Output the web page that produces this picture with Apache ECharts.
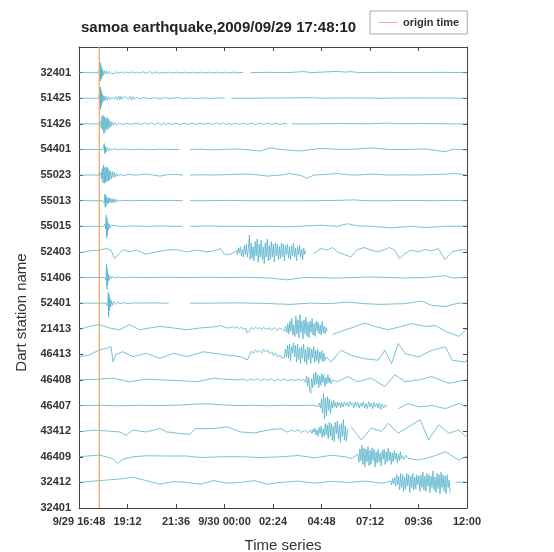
<!DOCTYPE html>
<html>
<head>
<meta charset="utf-8">
<script src="https://cdn.jsdelivr.net/npm/echarts@6/dist/echarts.min.js"></script>
<style>
  html, body { margin: 0; padding: 0; background: #fff; }
  #chart { width: 554px; height: 552px; }
</style>
</head>
<body>
<div id="chart"></div>
<script>
// minutes after 9/29 16:48, tick every 2h24m
var xTickLabels = ['9/29 16:48', '19:12', '21:36', '9/30 00:00', '02:24', '04:48', '07:12', '09:36', '12:00']
var stationLabels = ['32401', '32412', '46409', '43412', '46407', '46408', '46413', '21413', '52401',
  '51406', '52403', '55015', '55013', '55023', '54401', '51426', '51425', '32401']
var originTime = 60.17 // 17:48:10

// each trace: [minutes, amplitude] ; null = no record
var w32401 = [[0,0],[40,0],[58,0],[61,0.15],[62,-0.12],[63,0.39],[64,-0.33],[65,0.3],[66,-0.25],[67,0.2],[68,-0.18],[70,0.12],[72,-0.1],[75,0.08],[78,-0.06],[82,0.06],[86,-0.05],[90,0.04],[95,-0.04],[100,0.03],[106,-0.03],[112,0.03],[118,-0.02],[125,0.02],[132,-0.03],[140,0.03],[148,-0.02],[156,0.03],[164,-0.02],[172,0.02],[180,-0.02],[190,0.03],[200,-0.03],[210,0.04],[218,-0.03],[226,0.03],[236,-0.02],[246,0.02],[256,-0.02],[266,0.02],[278,-0.02],[290,0.02],[302,-0.02],[314,0.02],[326,-0.02],[338,0.02],[350,-0.02],[362,0.02],[374,-0.02],[386,0.02],[398,-0.02],[410,0.02],[422,-0.02],[434,0.02],[446,-0.02],[458,0.02],[470,-0.01],[488,0.01],[489,null],[510,0],[560,0.01],[620,0],[667,0.04],[690,0],[767,0.05],[790,0.02],[807,0.04],[830,0],[900,0.01],[1000,0],[1080,0.01],[1152,0]]
var w51425 = [[0,0],[40,0],[59,0],[61,0.2],[62,-0.15],[63,0.43],[64,-0.42],[65,0.35],[66,-0.3],[67,0.25],[68,-0.22],[70,0.15],[72,-0.12],[74,0.1],[77,-0.1],[80,0.08],[84,-0.08],[88,0.06],[92,-0.05],[98,0.05],[104,-0.04],[110,0.06],[114,-0.05],[118,0.08],[121,-0.06],[124,0.07],[127,-0.05],[130,0.04],[135,-0.03],[140,0.05],[146,-0.04],[152,0.07],[156,-0.06],[160,0.06],[164,-0.05],[170,0.03],[180,-0.02],[195,0.02],[210,-0.02],[225,0.02],[240,-0.02],[255,0.02],[270,-0.01],[290,0.02],[310,-0.01],[330,0.01],[350,-0.01],[370,0.01],[390,-0.01],[410,0.01],[432,0],[433,null],[452,0],[520,0],[600,0.01],[697,0.02],[720,0],[800,0.01],[900,0],[1000,0.01],[1152,0]]
var w51426 = [[0,0],[40,0],[60,0],[64,0.1],[66,-0.15],[68,0.3],[70,-0.25],[72,0.33],[74,-0.39],[76,0.28],[78,-0.3],[80,0.22],[82,-0.2],[84,0.25],[86,-0.22],[88,0.18],[90,-0.15],[92,0.12],[95,-0.1],[98,0.08],[102,-0.06],[106,0.05],[112,-0.04],[120,0.03],[130,-0.03],[140,0.02],[155,-0.02],[170,0.03],[185,-0.03],[195,0.04],[205,-0.02],[215,0.03],[225,-0.03],[235,0.04],[245,-0.05],[252,0.05],[258,-0.04],[266,0.03],[276,-0.03],[288,0.03],[300,-0.03],[312,0.03],[324,-0.03],[336,0.03],[348,-0.03],[360,0.03],[372,-0.02],[384,0.03],[396,-0.03],[408,0.03],[420,-0.02],[430,0.04],[436,-0.04],[442,0.03],[452,-0.03],[464,0.03],[476,-0.03],[488,0.03],[500,-0.03],[512,0.03],[524,-0.03],[536,0.03],[548,-0.03],[560,0.03],[572,-0.03],[584,0.03],[596,-0.03],[608,0.02],[618,0],[620,null],[632,0],[700,0],[780,0.01],[860,0],[917,0.03],[940,0],[1020,0.01],[1100,0],[1152,0]]
var w54401 = [[0,0],[50,0],[70,0],[73,0.05],[75,0.23],[76,-0.16],[77,0.15],[78,-0.12],[79,0.1],[81,-0.08],[84,0.06],[88,-0.05],[92,0.04],[98,-0.03],[105,0.03],[115,-0.02],[130,0.02],[150,-0.01],[180,0.01],[210,-0.01],[240,0.01],[270,0],[298,0],[299,null],[330,0],[360,0.01],[400,-0.02],[440,0.01],[480,0.01],[540,-0.06],[567,0.06],[597,0],[657,-0.06],[717,0.04],[780,0],[817,0.01],[867,0.06],[920,0],[967,0],[1030,0.02],[1087,-0.09],[1110,0.01],[1152,-0.02]]
var w55023 = [[0,0],[50,0],[62,0],[65,0.1],[67,-0.15],[69,0.25],[71,-0.3],[73,0.39],[75,-0.33],[77,0.3],[79,-0.28],[81,0.32],[83,-0.25],[85,0.28],[87,-0.22],[89,0.2],[91,-0.2],[93,0.15],[96,-0.15],[99,0.14],[102,-0.1],[105,0.1],[108,-0.08],[112,0.06],[116,-0.04],[122,0.03],[130,-0.02],[145,0.02],[170,0],[200,0.04],[220,0],[240,-0.04],[260,0.01],[280,0.03],[308,0],[309,null],[330,0],[360,0.01],[400,0],[450,0.02],[500,0.04],[530,0.01],[560,-0.04],[600,0],[627,0.06],[660,-0.02],[677,-0.13],[697,0],[740,0.03],[767,0.06],[800,0.01],[827,0],[867,0.04],[920,0],[967,0.01],[1000,0],[1047,0.02],[1080,0.03],[1117,0.06],[1152,0]]
var w55013 = [[0,0],[50,0],[70,0],[73,0.05],[75,-0.1],[77,0.26],[78,-0.26],[79,0.2],[80,-0.22],[82,0.15],[84,-0.12],[86,0.12],[88,-0.1],[90,0.1],[92,-0.08],[95,0.09],[98,-0.08],[101,0.08],[104,-0.07],[107,0.06],[110,-0.05],[114,0.03],[120,-0.02],[130,0.01],[160,0],[200,0.01],[240,0],[280,0.01],[308,0],[309,null],[330,0],[380,0],[440,0.01],[500,0],[560,0],[620,-0.01],[700,0],[760,0.01],[817,0.03],[850,0],[920,0],[980,0.01],[1050,0],[1100,0.01],[1152,0]]
var w55015 = [[0,0],[50,0],[74,0],[77,0.08],[79,-0.1],[81,0.43],[82,-0.47],[83,0.3],[84,-0.35],[86,0.15],[88,-0.15],[90,0.08],[93,-0.06],[97,0.04],[102,-0.03],[110,0.02],[125,-0.01],[150,0.01],[200,0],[250,0.01],[290,0],[308,0],[309,null],[330,0],[380,0.01],[430,0],[480,0],[530,-0.01],[567,0],[617,-0.02],[667,0.01],[717,0.04],[767,0],[797,0.1],[827,0.01],[867,0],[927,-0.06],[987,0],[1027,-0.05],[1087,0],[1152,0.01]]
var w52403 = [[0,-0.04],[30,0.04],[60,0.07],[80,0.13],[95,0.07],[105,-0.26],[115,-0.13],[130,0.09],[150,0],[170,0.07],[200,-0.09],[230,0],[260,0.07],[290,0.09],[320,0],[350,0.07],[380,0],[400,0.04],[420,0.13],[430,-0.07],[435,-0.13],[440,-0.12],[445,-0.1],[450,-0.08],[455,-0.05],[460,-0.03],[465,0],[468,0.05],[470,-0.1],[473,0.15],[476,-0.05],[479,0.2],[482,-0.15],[485,0.1],[488,-0.2],[491,0.25],[494,-0.1],[497,0.3],[500,-0.2],[503,0.15],[506,0.66],[508,-0.3],[511,0.35],[514,-0.25],[517,0.2],[520,-0.35],[523,0.4],[526,-0.15],[529,0.5],[532,-0.4],[535,0.3],[538,-0.2],[541,0.45],[544,-0.3],[547,0.2],[550,-0.45],[553,0.35],[556,-0.2],[559,0.5],[562,-0.35],[565,0.25],[568,-0.3],[571,0.4],[574,-0.2],[577,0.3],[580,-0.4],[583,0.35],[586,-0.15],[589,0.3],[592,-0.3],[595,0.2],[598,-0.25],[601,0.35],[604,-0.2],[607,0.3],[610,-0.35],[613,0.25],[616,-0.1],[619,0.3],[622,-0.25],[625,0.2],[628,-0.3],[631,0.25],[634,-0.15],[637,0.35],[640,-0.2],[643,0.15],[646,-0.35],[649,0.2],[652,-0.1],[655,0.25],[658,-0.2],[661,0.1],[664,-0.3],[667,0.15],[670,-0.1],[673,0.05],[674,null],[697,-0.07],[717,0.13],[737,0.07],[752,0.17],[767,0],[787,-0.1],[807,-0.2],[827,0.09],[847,0.17],[867,0.07],[887,0],[907,0.09],[922,0.17],[937,0.07],[952,-0.26],[967,-0.07],[987,0.07],[1007,0],[1027,0.09],[1047,0.04],[1067,0.13],[1087,-0.3],[1107,0],[1127,0.07],[1147,0.09],[1152,0.04]]
var w51406 = [[0,0],[50,0],[75,0],[78,0.05],[80,-0.1],[82,0.52],[83,-0.46],[84,0.35],[85,-0.3],[87,0.15],[89,-0.12],[92,0.06],[96,-0.05],[100,0.04],[106,-0.03],[115,0.02],[130,-0.01],[160,0.01],[200,0],[260,0.01],[320,0],[380,0.01],[440,0],[500,0.01],[567,-0.02],[617,-0.09],[667,0],[767,-0.02],[867,0.02],[967,-0.02],[1027,0],[1087,0.07],[1107,-0.02],[1152,0]]
var w52401 = [[0,0],[50,0],[80,0],[83,0.05],[85,-0.1],[87,0.43],[88,-0.55],[89,0.35],[90,-0.3],[92,0.2],[94,-0.15],[96,0.1],[99,-0.08],[103,0.06],[108,-0.05],[115,0.04],[122,-0.03],[130,0.02],[145,-0.02],[160,0.01],[190,0],[220,0.01],[250,0],[266,0],[267,null],[330,0],[400,0],[480,0.01],[567,-0.02],[627,-0.05],[687,0],[747,-0.02],[797,0.04],[847,-0.02],[897,-0.05],[967,-0.02],[1017,0.08],[1047,-0.09],[1087,-0.13],[1127,0],[1152,0]]
var w21413 = [[0,-0.04],[30,0.09],[60,0.16],[90,0.03],[120,-0.04],[150,0.16],[180,-0.04],[210,0.03],[240,0.09],[280,0.03],[320,-0.04],[360,0.03],[400,0.07],[420,0.12],[440,0.03],[450,0.04],[458,0.08],[464,0.02],[470,0.07],[476,0],[482,0.06],[488,-0.03],[494,0.03],[500,-0.17],[506,-0.08],[512,0.05],[518,-0.02],[524,0.06],[530,0],[536,0.04],[542,-0.03],[548,0.05],[556,-0.02],[564,0.03],[572,-0.04],[580,0.04],[588,-0.06],[596,0.03],[604,-0.02],[610,-0.1],[614,0.1],[617,-0.15],[620,0.2],[623,-0.2],[626,0.3],[629,-0.1],[632,0.4],[635,-0.25],[638,0.15],[641,-0.3],[644,0.5],[647,-0.2],[650,0.35],[653,-0.35],[656,0.55],[659,-0.15],[662,0.3],[665,-0.4],[668,0.35],[671,-0.2],[674,0.45],[677,-0.3],[680,0.25],[683,-0.35],[686,0.3],[689,-0.15],[692,0.4],[695,-0.25],[698,0.2],[701,-0.3],[704,0.3],[707,-0.1],[710,0.25],[713,-0.2],[716,0.15],[719,-0.25],[722,0.3],[725,-0.15],[728,0.1],[731,-0.2],[734,0.05],[737,-0.1],[740,null],[753,-0.23],[778,-0.1],[808,0.03],[848,0.22],[878,0.09],[918,-0.04],[958,0.09],[988,0.2],[1028,0.09],[1058,0.12],[1088,-0.1],[1128,-0.3],[1148,-0.04],[1152,-0.02]]
var w46413 = [[0,-0.09],[30,-0.03],[60,0.17],[80,0.23],[95,0.3],[101,-0.29],[110,0],[130,0.1],[160,-0.09],[200,0.04],[240,-0.16],[280,0.04],[320,-0.09],[370,0.1],[400,0.04],[440,-0.03],[480,-0.09],[500,-0.22],[506,-0.05],[512,0.12],[518,0.05],[524,0.18],[530,0.08],[536,0.15],[542,0.05],[548,0.2],[554,0.1],[560,0.16],[566,0.02],[572,0.1],[578,-0.05],[584,0.05],[590,-0.1],[596,-0.02],[602,-0.15],[610,-0.12],[613,0.2],[616,-0.1],[619,0.35],[622,-0.15],[625,0.4],[628,-0.25],[631,0.3],[634,0.05],[637,0.45],[640,-0.1],[643,0.35],[646,-0.3],[649,0.4],[652,-0.2],[655,0.25],[658,-0.35],[661,0.3],[664,-0.15],[667,0.4],[670,-0.3],[673,0.2],[676,-0.4],[679,0.3],[682,-0.2],[685,0.25],[688,-0.35],[691,0.2],[694,-0.15],[697,0.3],[700,-0.3],[703,0.15],[706,-0.25],[709,0.2],[712,-0.35],[715,0.1],[718,-0.2],[721,0.15],[724,-0.3],[727,0.05],[730,-0.25],[734,-0.1],[748,-0.3],[778,0.16],[808,-0.04],[848,-0.17],[888,-0.23],[908,0.16],[928,-0.36],[948,0.42],[968,0.03],[1008,-0.1],[1048,0.16],[1088,0.29],[1108,-0.23],[1148,-0.3],[1152,-0.2]]
var w46408 = [[0,0],[60,0.03],[100,0.07],[150,-0.07],[200,0.03],[250,0],[300,-0.03],[350,-0.07],[400,0.07],[430,0.03],[470,0],[490,0.03],[500,-0.03],[510,0.04],[520,-0.02],[530,0.05],[540,-0.03],[550,0.04],[560,-0.02],[570,0.05],[580,-0.04],[590,0.03],[600,-0.02],[610,0.04],[620,-0.03],[630,0.02],[640,-0.03],[650,0.03],[660,-0.02],[668,0.02],[673,-0.1],[676,0.15],[679,-0.25],[682,0.1],[685,-0.4],[688,-0.52],[691,0.05],[694,-0.3],[697,0.25],[700,-0.2],[703,0.3],[706,-0.15],[709,0.2],[712,-0.3],[715,0.15],[718,-0.2],[721,0.25],[724,-0.1],[727,0.2],[730,-0.25],[733,0.1],[736,-0.15],[739,0.2],[742,-0.1],[745,0.1],[748,-0.15],[752,0],[768,-0.07],[798,0.13],[828,-0.07],[868,0.07],[908,-0.26],[938,0.2],[968,-0.07],[1008,0],[1048,0.13],[1098,-0.13],[1148,0],[1152,0]]
var w46407 = [[0,0],[60,0.01],[120,-0.01],[180,0.01],[240,0],[300,0.02],[350,0.06],[380,0.07],[420,0.03],[470,0],[520,0.01],[560,-0.01],[600,0.01],[640,0],[680,0.01],[700,0],[705,0.03],[710,-0.04],[714,0.1],[717,-0.1],[720,0.25],[723,-0.3],[726,0.47],[729,-0.51],[732,0.3],[735,-0.4],[738,0.35],[741,-0.2],[744,0.25],[747,-0.3],[750,0.15],[753,-0.1],[756,0.2],[759,-0.05],[762,0.12],[765,-0.1],[768,0.15],[771,0],[774,0.1],[777,-0.08],[780,0.12],[784,-0.05],[788,0.14],[792,0],[796,0.12],[800,-0.06],[804,0.15],[808,0.02],[812,0.1],[816,-0.08],[820,0.14],[824,-0.04],[828,0.12],[832,-0.1],[836,0.1],[840,-0.05],[844,0.15],[848,-0.1],[852,0.08],[856,-0.12],[860,0.15],[864,-0.05],[868,0.1],[872,-0.12],[876,0.12],[880,-0.05],[884,0.08],[888,-0.1],[892,0.1],[896,-0.15],[900,0.05],[905,-0.1],[910,0.03],[915,-0.05],[920,null],[948,-0.12],[978,0.08],[1008,-0.05],[1048,0],[1088,-0.12],[1128,0.08],[1148,-0.03],[1152,0]]
var w43412 = [[0,-0.03],[40,0.04],[80,0.01],[120,-0.03],[140,-0.16],[160,0.04],[200,-0.03],[240,0.1],[260,-0.03],[300,-0.09],[330,-0.12],[345,0.1],[400,0.1],[440,0.17],[480,-0.03],[520,-0.07],[560,0.04],[600,0.1],[610,0.02],[620,-0.04],[630,0.05],[640,-0.02],[650,0.06],[660,-0.05],[670,0.03],[680,-0.06],[688,0.04],[692,-0.1],[695,0.08],[698,-0.05],[701,0.12],[704,-0.15],[707,0.05],[710,-0.2],[713,0.15],[716,-0.1],[719,0.2],[722,-0.25],[725,0.1],[728,-0.2],[731,0.3],[734,-0.15],[737,0.25],[740,-0.3],[743,0.35],[746,-0.2],[749,0.3],[752,-0.35],[755,0.2],[758,-0.4],[761,0.35],[764,-0.1],[767,0.4],[770,-0.3],[773,0.25],[776,-0.45],[779,0.3],[782,-0.2],[785,0.45],[788,-0.35],[791,0.2],[794,-0.4],[797,0.1],[800,null],[808,0.18],[838,-0.34],[868,0.12],[898,-0.01],[918,0.31],[948,-0.08],[988,0.25],[1013,0.44],[1038,-0.34],[1068,0.25],[1098,-0.08],[1128,0.05],[1148,-0.21],[1152,-0.15]]
var w46409 = [[0,0],[60,0.07],[100,-0.07],[115,-0.26],[130,-0.1],[160,0],[200,0.04],[260,0.03],[320,0.03],[360,-0.03],[420,0],[480,0],[540,-0.03],[600,0],[650,0.05],[700,-0.04],[750,0.06],[790,0],[810,-0.06],[828,0.1],[831,-0.2],[834,0.3],[837,-0.15],[840,0.45],[843,-0.3],[846,0.35],[849,-0.4],[852,0.3],[855,-0.2],[858,0.4],[861,-0.35],[864,0.25],[867,-0.3],[870,0.35],[873,-0.15],[876,0.3],[879,-0.4],[882,0.2],[885,-0.25],[888,0.3],[891,-0.2],[894,0.15],[897,-0.35],[900,0.25],[903,-0.1],[906,0.3],[909,-0.3],[912,0.2],[915,-0.2],[918,0.35],[921,-0.15],[924,0.2],[927,-0.3],[930,0.15],[933,-0.2],[936,0.25],[939,-0.1],[942,0.15],[945,-0.25],[948,0.1],[951,-0.15],[954,0.2],[957,-0.1],[960,0.05],[965,-0.1],[970,0.05],[975,-0.05],[1008,-0.13],[1048,0],[1088,0.2],[1128,-0.13],[1148,0],[1152,0]]
var w32412 = [[0,0],[60,0.07],[120,0.13],[160,0.2],[200,0.07],[240,-0.07],[280,0.03],[320,0],[360,-0.07],[400,0.07],[440,-0.03],[480,0],[520,0.07],[560,-0.07],[600,0],[650,0.05],[700,-0.03],[750,0.04],[800,0],[850,0.05],[900,-0.03],[925,0.05],[928,-0.1],[931,0.15],[934,-0.05],[937,0.2],[940,-0.15],[943,0.3],[946,-0.1],[949,0.25],[952,-0.3],[955,0.35],[958,-0.2],[961,0.3],[964,-0.35],[967,0.2],[970,-0.25],[973,0.35],[976,-0.15],[979,0.3],[982,-0.4],[985,0.25],[988,-0.2],[991,0.35],[994,-0.3],[997,0.2],[1000,-0.25],[1003,0.3],[1006,-0.1],[1009,0.25],[1012,-0.35],[1015,0.3],[1018,-0.2],[1021,0.4],[1024,-0.3],[1027,0.25],[1030,-0.35],[1033,0.35],[1036,-0.15],[1039,0.3],[1042,-0.4],[1045,0.25],[1048,-0.2],[1051,0.45],[1054,-0.3],[1057,0.2],[1060,-0.4],[1063,0.35],[1066,-0.25],[1069,0.3],[1072,-0.45],[1075,0.4],[1078,-0.2],[1081,0.3],[1084,-0.35],[1087,0.25],[1090,-0.45],[1093,0.3],[1096,-0.2],[1099,0.1],[1102,-0.4],[1105,null],[1118,0],[1140,0.02],[1152,0]]

// trace list, bottom row first (row 0 is the empty bottom label)
var traces = [w32412, w46409, w43412, w46407, w46408, w46413, w21413, w52401, w51406,
  w52403, w55015, w55013, w55023, w54401, w51426, w51425, w32401]

var waveColor = '#56b3ca'
var axisColor = '#444'

function buildSeries() {
  var serie = []
  for (var i = 0; i < traces.length; i++) {
    var row = i + 1
    serie.push({
      type: 'line',
      name: stationLabels[row],
      symbol: 'none',
      silent: true,
      connectNulls: false,
      lineStyle: { color: waveColor, width: 0.8 },
      data: traces[i].map(function (p) {
        return [p[0], p[1] === null ? '-' : row + p[1]]
      })
    })
  }
  // origin time marker
  serie.push({
    type: 'line',
    name: 'origin time',
    symbol: 'none',
    silent: true,
    lineStyle: { color: '#eea25c', width: 1.2 },
    itemStyle: { color: '#f2b2a2' },
    data: [[originTime, 0], [originTime, 18]]
  })
  return serie
}

// x/y axis pair drawn as a closed box with inside ticks
function boxAxis(extra) {
  var base = {
    type: 'value',
    axisLine: { show: true, onZero: false, lineStyle: { color: axisColor } },
    axisTick: { show: true, inside: true, length: 4, lineStyle: { color: axisColor } },
    splitLine: { show: false }
  }
  for (var k in extra) base[k] = extra[k]
  return base
}

var chart = echarts.init(document.getElementById('chart'), null, { renderer: 'canvas' })
chart.setOption({
  animation: false,
  backgroundColor: '#fff',
  title: {
    text: 'samoa earthquake,2009/09/29 17:48:10',
    left: 76,
    top: 15,
    textStyle: { fontFamily: 'Liberation Sans', fontSize: 15, fontWeight: 'bold', color: '#222' }
  },
  legend: {
    data: [{ name: 'origin time', icon: 'rect' }],
    left: 370,
    top: 11,
    itemWidth: 20,
    itemHeight: 1,
    itemGap: 4,
    padding: [6, 8, 6, 8],
    borderColor: '#aaa',
    borderWidth: 1,
    textStyle: { fontFamily: 'Liberation Sans', fontSize: 11, fontWeight: 'bold', color: '#333' }
  },
  grid: { left: 79, right: 87, top: 47, bottom: 44, containLabel: false, outerBoundsMode: 'none' },
  xAxis: [
    boxAxis({
      min: 0,
      max: 1152,
      interval: 144,
      name: 'Time series',
      nameLocation: 'middle',
      nameGap: 30,
      nameTextStyle: { fontFamily: 'Liberation Sans', fontSize: 15, color: '#333', padding: [0, 0, 0, 20] },
      axisLabel: {
        margin: 8,
        fontFamily: 'Liberation Sans',
        fontSize: 11,
        fontWeight: 'bold',
        color: '#333',
        formatter: function (v) {
          return xTickLabels[Math.round(v / 144)]
        }
      }
    }),
    boxAxis({ position: 'top', min: 0, max: 1152, interval: 144, axisLabel: { show: false } })
  ],
  yAxis: [
    boxAxis({
      min: 0,
      max: 18,
      interval: 1,
      name: 'Dart station name',
      nameLocation: 'middle',
      nameGap: 50,
      nameTextStyle: { fontFamily: 'Liberation Sans', fontSize: 15, color: '#333', padding: [0, 70, 0, 0] },
      axisLabel: {
        margin: 8,
        fontFamily: 'Liberation Sans',
        fontSize: 11,
        fontWeight: 'bold',
        color: '#333',
        formatter: function (v) {
          return stationLabels[v] || ''
        }
      }
    }),
    boxAxis({ position: 'right', min: 0, max: 18, interval: 1, axisLabel: { show: false } })
  ],
  series: buildSeries()
})
</script>
</body>
</html>
